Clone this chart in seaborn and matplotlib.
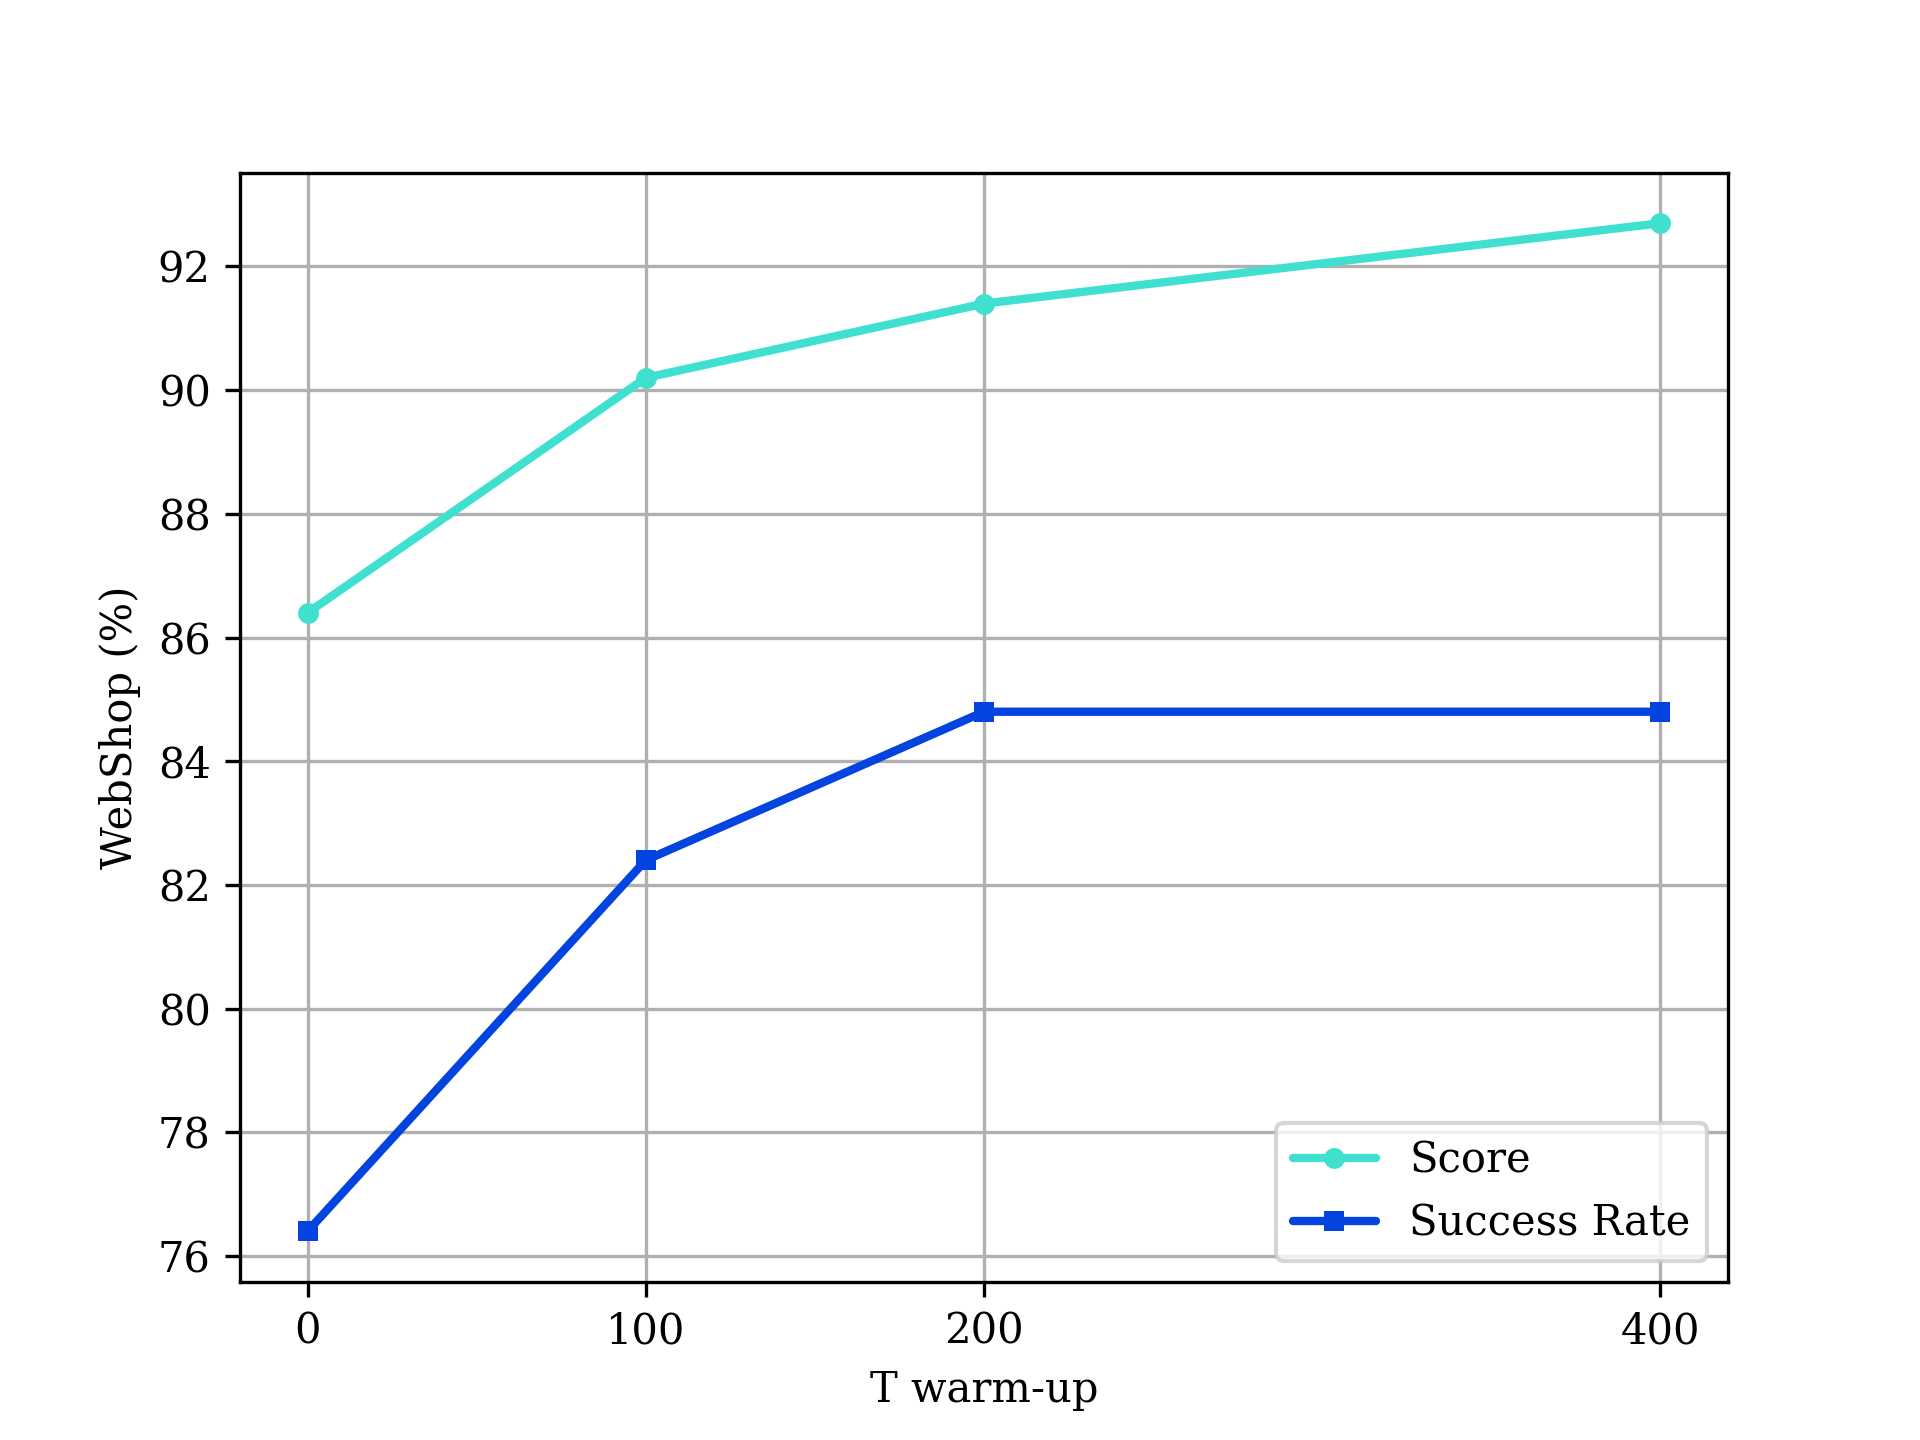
import pandas as pd
import matplotlib
matplotlib.use("Agg")
import matplotlib.pyplot as plt
import seaborn as sns

# data
warmup = [0, 100, 200, 400]
score = [86.4, 90.2, 91.4, 92.7]
success_rate = [76.4, 82.4, 84.8, 84.8]

df = pd.DataFrame({"T": warmup, "Score": score, "Success Rate": success_rate})

sns.set_style("ticks", {"text.color": "black", "axes.labelcolor": "black",
                        "xtick.color": "black", "ytick.color": "black"})
plt.rcParams["font.family"] = ["DejaVu Serif"]
plt.rcParams["legend.fancybox"] = True

fig, ax = plt.subplots(figsize=(6.4, 4.8), dpi=300)

sns.lineplot(data=df, x="T", y="Score", ax=ax, color="turquoise",
             marker="o", markersize=5, markeredgewidth=0, linewidth=2,
             label="Score")
sns.lineplot(data=df, x="T", y="Success Rate", ax=ax, color="#0343df",
             marker="s", markersize=5, markeredgewidth=0, linewidth=2,
             label="Success Rate")

ax.set_xticks(warmup)
ax.set_yticks([76, 78, 80, 82, 84, 86, 88, 90, 92])
ax.set_xlabel("T warm-up")
ax.set_ylabel("WebShop (%)")
ax.grid(True, color="#b0b0b0", linewidth=0.8)
for s in ax.spines.values():
    s.set_visible(True)
    s.set_color("black")
ax.tick_params(direction="out", length=3.5, width=0.8, color="black")
ax.legend(loc="lower right", fontsize=10)

plt.savefig("out.png", dpi=300)
